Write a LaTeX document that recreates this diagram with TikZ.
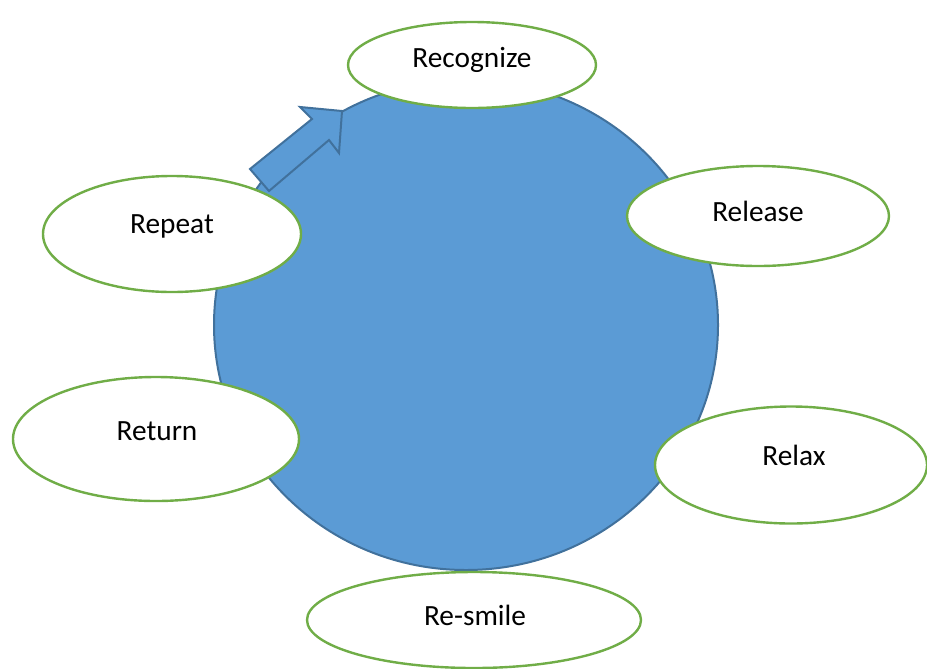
\documentclass[tikz,border=0pt]{standalone}
\usepackage{fontspec}
\setmainfont{Carlito}
\usetikzlibrary{shapes.geometric}

\definecolor{blobblue}{HTML}{5B9BD5}
\definecolor{blobedge}{HTML}{41719C}
\definecolor{ringgreen}{HTML}{70AD47}

\tikzset{
  bubble/.style={ellipse, draw=ringgreen, fill=white, line width=1.8pt, inner sep=0pt},
  word/.style={anchor=base, font=\fontsize{22}{26}\selectfont, inner sep=0pt}
}

\begin{document}
\begin{tikzpicture}
[x=0.75pt, y=-0.75pt]
  \useasboundingbox (0,0) rectangle (927,668);

  % the big blue disc
  \draw[fill=blobblue, draw=blobedge, line width=1.5pt] (466,325) ellipse [x radius=252, y radius=245];

  % block arrow
  \draw[fill=blobblue, draw=blobedge, line width=1.5pt, line join=miter]
    (250,169) -- (312,119) -- (300,107) -- (342,111) -- (339,153) -- (329,140) -- (269,191) -- cycle;

  % the six steps
  \node[bubble, minimum width=186pt, minimum height=64.5pt] (rec) at (472,65) {};
  \node[bubble, minimum width=196.5pt, minimum height=75pt] (rel) at (758,216) {};
  \node[bubble, minimum width=204pt, minimum height=87.75pt] (rlx) at (791,465) {};
  \node[bubble, minimum width=250.5pt, minimum height=72pt] (rsm) at (474,620) {};
  \node[bubble, minimum width=214.5pt, minimum height=93pt] (ret) at (156,439) {};
  \node[bubble, minimum width=193.5pt, minimum height=87pt] (rep) at (172,234) {};

  \node[word] (rec-t) at (472,67) {Recognize};
  \node[word] (rel-t) at (758,221) {Release};
  \node[word] (rlx-t) at (794,465) {Relax};
  \node[word] (rsm-t) at (475,625) {Re-smile};
  \node[word] (ret-t) at (157,440) {Return};
  \node[word] (rep-t) at (172,233) {Repeat};
\end{tikzpicture}
\end{document}
